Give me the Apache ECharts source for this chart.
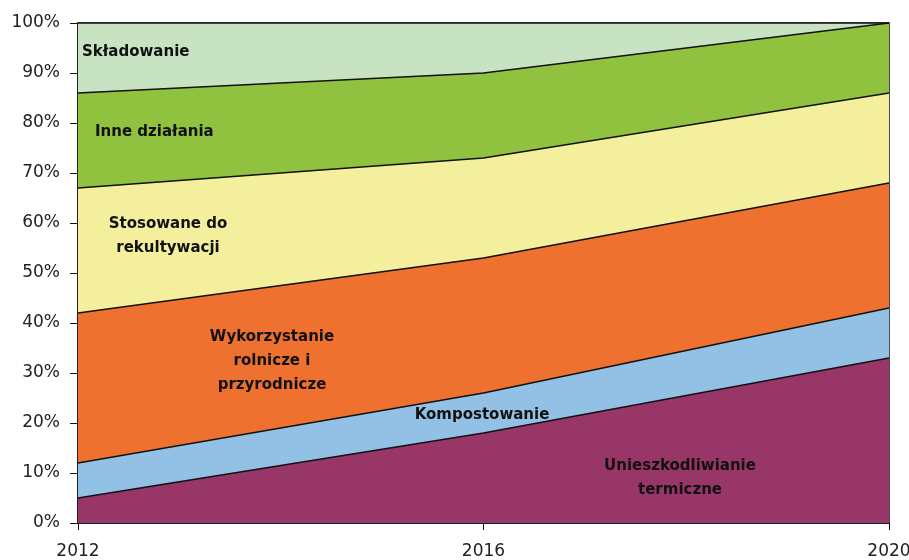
<!DOCTYPE html>
<html lang="pl">
<head>
<meta charset="UTF-8">
<title>Struktura zagospodarowania</title>
<style>
  html, body { margin: 0; padding: 0; background: #fff; }
  #main { width: 909px; height: 560px; }
</style>
</head>
<body>
<div id="main"></div>
<script src="https://cdn.jsdelivr.net/npm/echarts@6/dist/echarts.min.js"></script>
<script>
// lata na osi X
var years = ['2012', '2016', '2020'];

// udzialy procentowe (od dolu do gory stosu)
var termiczne = [5, 18, 33];
var kompostowanie = [7, 8, 10];
var wykorzystanie = [30, 27, 25];
var stosowane = [25, 20, 18];
var inne = [19, 17, 14];
var skladowanie = [14, 10, 0];

var axisFont = '"DejaVu Sans", Verdana, sans-serif';
var labelFont = '"DejaVu Sans", Verdana, sans-serif';

function area(name, data, color) {
    return {
        name: name,
        type: 'line',
        stack: 'razem',
        data: data,
        showSymbol: false,
        symbol: 'none',
        lineStyle: { color: '#111', width: 1.5 },
        areaStyle: { color: color, opacity: 1 },
        silent: true
    };
}

// podpisy na polach wykresu; y = srodek pierwszej linii
function label(x, y, lines, align) {
    return {
        type: 'text',
        x: x,
        y: y - 10,
        z: 100,
        style: {
            text: lines.join('\n'),
            fill: '#111',
            font: 'bold 15px ' + labelFont,
            align: align || 'left',
            verticalAlign: 'top',
            lineHeight: 24
        }
    };
}

var chart = echarts.init(document.getElementById('main'));

chart.setOption({
    animation: false,
    grid: {
        left: 78, right: 20, top: 23, bottom: 37,
        outerBoundsMode: 'none',
        containLabel: false,
        show: true,
        borderColor: '#111',
        borderWidth: 1.5,
        backgroundColor: 'transparent'
    },
    xAxis: {
        type: 'category',
        data: years,
        boundaryGap: false,
        axisLine: { lineStyle: { color: '#111', width: 1.5 } },
        axisTick: { show: true, length: 7, lineStyle: { color: '#111' } },
        axisLabel: { color: '#222', fontSize: 17, fontFamily: axisFont, margin: 20 },
        splitLine: { show: false }
    },
    yAxis: {
        type: 'value',
        min: 0,
        max: 100,
        interval: 10,
        axisLine: { show: true, lineStyle: { color: '#111', width: 1.5 } },
        axisTick: { show: true, length: 8, lineStyle: { color: '#111' } },
        axisLabel: { color: '#222', fontSize: 17, fontFamily: axisFont, margin: 18, formatter: '{value}%' },
        splitLine: { show: false }
    },
    series: [
        area('Unieszkodliwianie termiczne', termiczne, '#983668'),
        area('Kompostowanie', kompostowanie, '#93c1e5'),
        area('Wykorzystanie rolnicze i przyrodnicze', wykorzystanie, '#ee7130'),
        area('Stosowane do rekultywacji', stosowane, '#f3ef9c'),
        area('Inne działania', inne, '#90c23f'),
        area('Składowanie', skladowanie, '#c7e3c2')
    ],
    graphic: [
        label(82, 50, ['Składowanie']),
        label(95, 130, ['Inne działania']),
        label(168, 222, ['Stosowane do', 'rekultywacji'], 'center'),
        label(272, 335, ['Wykorzystanie', 'rolnicze i', 'przyrodnicze'], 'center'),
        label(482, 413, ['Kompostowanie'], 'center'),
        label(680, 464, ['Unieszkodliwianie', 'termiczne'], 'center')
    ]
});
</script>
</body>
</html>
